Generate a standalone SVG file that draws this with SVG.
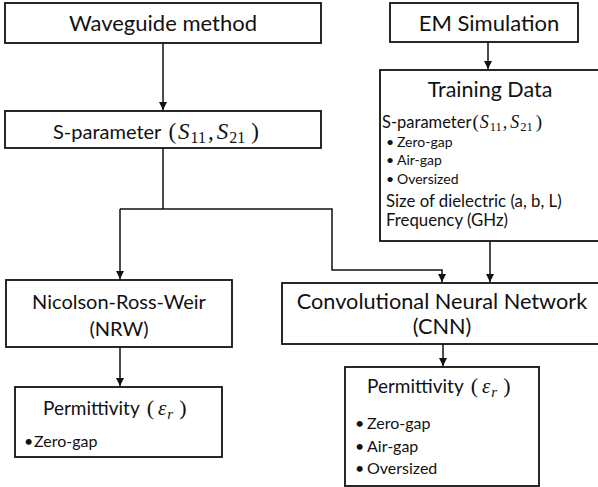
<svg xmlns="http://www.w3.org/2000/svg" width="598" height="487" viewBox="0 0 598 487">
<defs>
<style>
.box{fill:#fff;stroke:#111;stroke-width:1.8}
.t{font-family:Lato,"Open Sans",sans-serif;fill:#111}
.m{font-family:"Liberation Serif","DejaVu Serif",serif;font-style:italic}
.s{font-family:"Liberation Serif","DejaVu Serif",serif;font-style:normal}
.c{fill:none;stroke:#111;stroke-width:1.5}
</style>
<marker id="ah" viewBox="0 0 8 8" refX="8" refY="4" markerWidth="8" markerHeight="8" markerUnits="userSpaceOnUse" orient="auto">
<path d="M0,0 L8,4 L0,8 Z" fill="#111"/>
</marker>
</defs>
<rect width="598" height="487" fill="#fff"/>
<g id="connectors">
<line class="c" x1="163" y1="43" x2="163" y2="110" marker-end="url(#ah)"/>
<line class="c" x1="488" y1="42" x2="488" y2="69" marker-end="url(#ah)"/>
<polyline class="c" points="163,148 163,209"/>
<polyline class="c" points="120,209 120,279" marker-end="url(#ah)"/>
<polyline class="c" points="120,209 332,209 332,270 442,270 442,282" marker-end="url(#ah)"/>
<line class="c" x1="490" y1="241" x2="490" y2="282" marker-end="url(#ah)"/>
<line class="c" x1="120" y1="347" x2="120" y2="386" marker-end="url(#ah)"/>
<line class="c" x1="443" y1="344" x2="443" y2="366" marker-end="url(#ah)"/>
</g>
<g id="waveguide">
<rect class="box" x="5" y="3" width="316" height="40"/>
<text class="t" x="163" y="31" font-size="22" text-anchor="middle">Waveguide method</text>
</g>
<g id="em">
<rect class="box" x="390" y="3" width="188" height="39"/>
<text class="t" x="489" y="31" font-size="22" text-anchor="middle">EM Simulation</text>
</g>
<g id="sparam">
<rect class="box" x="5" y="111" width="316" height="37"/>
<text class="t" x="53" y="139" font-size="20">S-parameter<tspan class="s" dx="7" font-size="23">(</tspan><tspan class="m" dx="2" font-size="23">S</tspan><tspan class="s" dx="1" dy="4" font-size="16">11</tspan><tspan class="s" dx="2" dy="-4" font-size="23">,</tspan><tspan class="m" dx="3" font-size="23">S</tspan><tspan class="s" dx="1" dy="4" font-size="16">21</tspan><tspan class="s" dx="6" dy="-4" font-size="23">)</tspan></text>
</g>
<g id="training">
<rect class="box" x="380" y="70" width="222" height="171"/>
<text class="t" x="490" y="97" font-size="21.5" text-anchor="middle">Training Data</text>
<text class="t" x="382" y="128" font-size="16.5">S-parameter<tspan class="s" dx="1" font-size="19">(</tspan><tspan class="m" dx="1" font-size="18">S</tspan><tspan class="s" dx="1" dy="3" font-size="12.5">11</tspan><tspan class="s" dx="1" dy="-3" font-size="18">,</tspan><tspan class="m" dx="3" font-size="18">S</tspan><tspan class="s" dx="1" dy="3" font-size="12.5">21</tspan><tspan class="s" dx="3" dy="-3" font-size="19">)</tspan></text>
<text class="t" font-size="14"><tspan x="386" y="147">•</tspan><tspan x="397">Zero-gap</tspan></text>
<text class="t" font-size="14"><tspan x="386" y="165">•</tspan><tspan x="397">Air-gap</tspan></text>
<text class="t" font-size="14"><tspan x="386" y="184">•</tspan><tspan x="397">Oversized</tspan></text>
<text class="t" x="386" y="207" font-size="16.8">Size of dielectric (a, b, L)</text>
<text class="t" x="386" y="226" font-size="16.8">Frequency (GHz)</text>
</g>
<g id="nrw">
<rect class="box" x="6" y="280" width="226" height="67"/>
<text class="t" x="119" y="309" font-size="20" text-anchor="middle">Nicolson-Ross-Weir</text>
<text class="t" x="119" y="336" font-size="20" text-anchor="middle">(NRW)</text>
</g>
<g id="cnn">
<rect class="box" x="282" y="283" width="320" height="61"/>
<text class="t" x="442" y="309" font-size="21.7" text-anchor="middle">Convolutional Neural Network</text>
<text class="t" x="442" y="334" font-size="21.7" text-anchor="middle">(CNN)</text>
</g>
<g id="perm-left">
<rect class="box" x="15" y="387" width="207" height="70"/>
<text class="t" x="43" y="415" font-size="19">Permittivity<tspan class="s" dx="7" font-size="22">(</tspan><tspan class="m" dx="4" font-size="21">ε</tspan><tspan class="m" dx="1" dy="4" font-size="15">r</tspan><tspan class="s" dx="6" dy="-4" font-size="22">)</tspan></text>
<text class="t" font-size="16"><tspan x="24" y="447">•</tspan><tspan x="34">Zero-gap</tspan></text>
</g>
<g id="perm-right">
<rect class="box" x="345" y="367" width="194" height="119"/>
<text class="t" x="367" y="393" font-size="19">Permittivity<tspan class="s" dx="7" font-size="22">(</tspan><tspan class="m" dx="4" font-size="21">ε</tspan><tspan class="m" dx="1" dy="4" font-size="15">r</tspan><tspan class="s" dx="6" dy="-4" font-size="22">)</tspan></text>
<text class="t" font-size="16"><tspan x="355" y="429">•</tspan><tspan x="367">Zero-gap</tspan></text>
<text class="t" font-size="16"><tspan x="355" y="452">•</tspan><tspan x="367">Air-gap</tspan></text>
<text class="t" font-size="16"><tspan x="355" y="474">•</tspan><tspan x="367">Oversized</tspan></text>
</g>
</svg>
